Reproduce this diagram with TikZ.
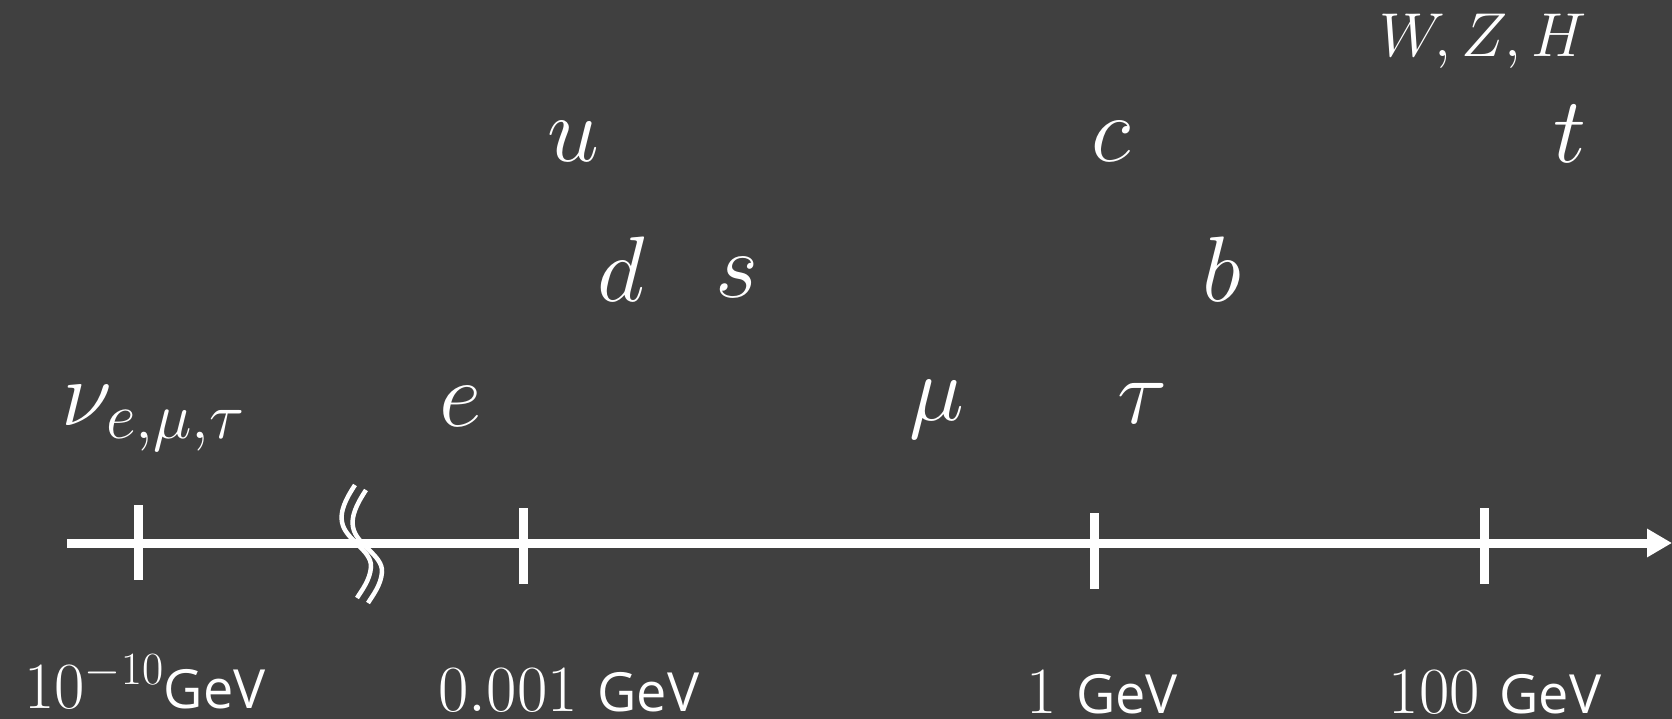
\RequirePackage{fix-cm}
\documentclass[tikz,border=0pt]{standalone}
\usepackage{fontspec}
\setsansfont{Open Sans}
\usetikzlibrary{arrows.meta}
\definecolor{bg}{HTML}{404040}
\tikzset{
  axisline/.style={draw=white, line width=9pt, line cap=butt},
  tickmark/.style={draw=white, line width=9pt, line cap=butt},
  breakline/.style={draw=white, line width=4.5pt, line cap=butt},
  particle/.style={text=white, anchor=base, inner sep=0pt, font=\fontsize{93}{93}\selectfont},
  boson/.style={text=white, anchor=base, inner sep=0pt, font=\fontsize{62}{62}\selectfont},
  scalelabel/.style={text=white, anchor=base, inner sep=0pt, text depth=0pt, font=\fontsize{66}{66}\selectfont},
}
\newcommand{\gevunit}{{\sffamily\fontsize{54}{54}\selectfont GeV}}
\begin{document}
\begin{tikzpicture}[x=1pt, y=-1pt]
\useasboundingbox[fill=bg] (0,0) rectangle (1672,719);

% axis
\coordinate (axL) at (67,543);
\coordinate (axR) at (1672,543);
\draw[axisline, -{Triangle[length=25pt,width=27pt]}] (axL) -- (axR);

% ticks
\coordinate (t1a) at (138,505); \coordinate (t1b) at (138,580);
\coordinate (t2a) at (523,508); \coordinate (t2b) at (523,584);
\coordinate (t3a) at (1094,513); \coordinate (t3b) at (1094,589);
\coordinate (t4a) at (1484,508); \coordinate (t4b) at (1484,584);
\draw[tickmark] (t1a) -- (t1b);
\draw[tickmark] (t2a) -- (t2b);
\draw[tickmark] (t3a) -- (t3b);
\draw[tickmark] (t4a) -- (t4b);

% axis break
\foreach \dx/\dy in {0/0, 11/5} {
  \draw[breakline, shift={(\dx,\dy)}] (355,485) .. controls (345,500) and (340,512) .. (342,522)
     .. controls (345,540) and (372,550) .. (371,567)
     .. controls (370,580) and (362,590) .. (357,598);
}

% scale labels
\node[scalelabel] (l1) at (145,708) {$10^{-10}$\gevunit};
\node[scalelabel] (l2) at (569,711) {$0.001$ \gevunit};
\node[scalelabel] (l3) at (1102,713) {$1$ \gevunit};
\node[scalelabel] (l4) at (1495,713) {$100$ \gevunit};

% particles
\node[particle] (nu) at (153,425) {$\nu_{e,\mu,\tau}$};
\node[particle] (el) at (461,426) {$e$};
\node[particle] (mu) at (937,420) {$\mu$};
\node[particle] (tau) at (1142,423) {$\tau$};
\node[particle] (dq) at (621,301) {$d$};
\node[particle] (sq) at (737,298) {$s$};
\node[particle] (bq) at (1222,301) {$b$};
\node[particle] (uq) at (573,162) {$u$};
\node[particle] (cq) at (1111,162) {$c$};
\node[particle] (tq) at (1570,163) {$t$};
\node[boson] (wzh) at (1483,57) {$W,Z,H$};
\end{tikzpicture}
\end{document}
